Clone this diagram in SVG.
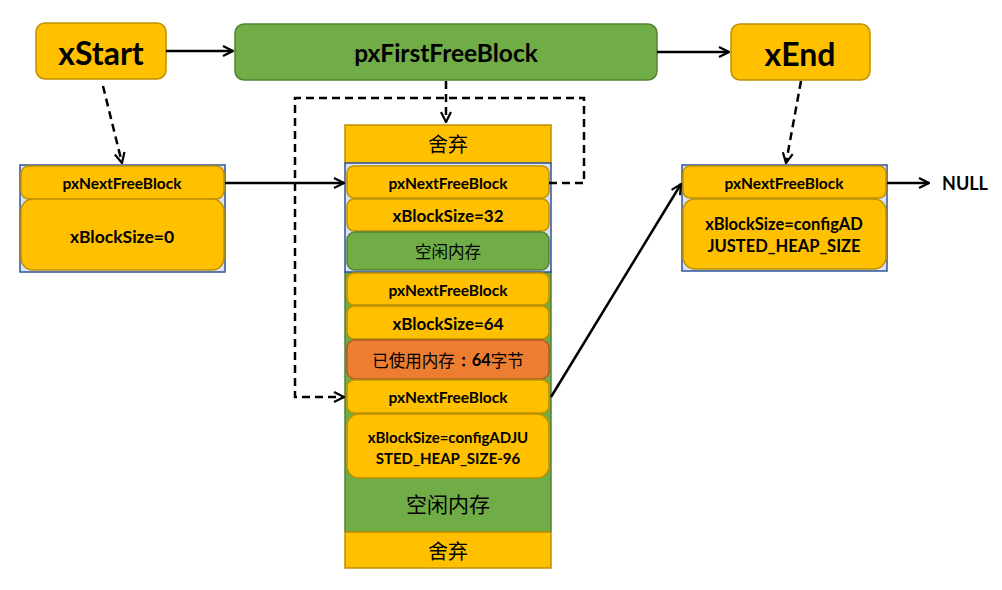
<svg xmlns="http://www.w3.org/2000/svg" width="1002" height="590" viewBox="0 0 1002 590">
<defs>
<style>
.y{fill:#FFC000;stroke:#BF9000;stroke-width:1.5}
.g{fill:#70AD47;stroke:#538135;stroke-width:1.5}
.o{fill:#ED7D31;stroke:#AE5A21;stroke-width:1.5}
.frame{fill:#DAE3F3;stroke:#2F5597;stroke-width:1.5}
.t{font-family:Lato,"Liberation Sans","Noto Sans CJK SC",sans-serif;font-weight:bold;fill:#000;text-anchor:middle;dominant-baseline:central}
.c{font-family:"Noto Sans CJK SC",sans-serif;font-weight:normal;fill:#000;text-anchor:middle;dominant-baseline:central}
.ln{fill:none;stroke:#000;stroke-width:2.5}
.dash{fill:none;stroke:#000;stroke-width:2.5;stroke-dasharray:8 5}
</style>
<marker id="ah" viewBox="0 0 12 12" refX="11" refY="6" markerWidth="12" markerHeight="12" markerUnits="userSpaceOnUse" orient="auto">
<path d="M1,1 L11,6 L1,11" fill="none" stroke="#000" stroke-width="2.2"/>
</marker>
</defs>
<rect width="1002" height="590" fill="#fff"/>

<g id="xStart">
<rect class="y" x="36" y="23" width="130" height="56" rx="9"/>
<text class="t" x="101" y="52" font-size="32">xStart</text>
</g>
<g id="pxFirstFreeBlock">
<rect class="g" x="235" y="24" width="422" height="56" rx="9"/>
<text class="t" x="446" y="52" font-size="24.5">pxFirstFreeBlock</text>
</g>
<g id="xEnd">
<rect class="y" x="731" y="24" width="139" height="56" rx="9"/>
<text class="t" x="800" y="53" font-size="32">xEnd</text>
</g>

<g id="startBlock">
<rect class="frame" x="20" y="165" width="205" height="107"/>
<rect class="y" x="21" y="166" width="203" height="33" rx="8"/>
<text class="t" x="122" y="183" font-size="15.5">pxNextFreeBlock</text>
<rect class="y" x="21" y="199" width="203" height="71" rx="12"/>
<text class="t" x="122" y="236" font-size="17.5">xBlockSize=0</text>
</g>

<g id="heap">
<rect class="g" x="345" y="272" width="206" height="260"/>
<rect class="y" x="345" y="125" width="206" height="38"/>
<text class="c" x="448" y="143" font-size="20">舍弃</text>
<rect class="frame" x="345" y="163" width="206" height="109"/>
<rect class="y" x="347" y="166" width="202" height="32" rx="7"/>
<text class="t" x="448" y="183" font-size="15.5">pxNextFreeBlock</text>
<rect class="y" x="347" y="199" width="202" height="32" rx="7"/>
<text class="t" x="448" y="215" font-size="17">xBlockSize=32</text>
<rect class="g" x="347" y="232" width="202" height="38" rx="8"/>
<text class="c" x="448" y="251" font-size="16.5">空闲内存</text>
<rect class="y" x="347" y="273" width="202" height="32" rx="7"/>
<text class="t" x="448" y="290" font-size="15.5">pxNextFreeBlock</text>
<rect class="y" x="347" y="306" width="202" height="33" rx="7"/>
<text class="t" x="448" y="323" font-size="17">xBlockSize=64</text>
<rect class="o" x="347" y="340" width="202" height="39" rx="8"/>
<text class="c" x="448" y="360" font-size="16.5">已使用内存<tspan font-family="Lato,'Liberation Sans',sans-serif" font-weight="bold">：64</tspan>字节</text>
<rect class="y" x="347" y="380" width="202" height="33" rx="7"/>
<text class="t" x="448" y="397" font-size="15.5">pxNextFreeBlock</text>
<rect class="y" x="347" y="414" width="202" height="64" rx="12"/>
<text class="t" x="448" y="437" font-size="15">xBlockSize=configADJU</text>
<text class="t" x="448" y="458" font-size="15">STED_HEAP_SIZE-96</text>
<text class="c" x="448" y="503" font-size="21">空闲内存</text>
<rect class="y" x="345" y="532" width="206" height="36"/>
<text class="c" x="448" y="550" font-size="20">舍弃</text>
</g>

<g id="endBlock">
<rect class="frame" x="682" y="165" width="205" height="106"/>
<rect class="y" x="683" y="166" width="203" height="32" rx="7"/>
<text class="t" x="784" y="183" font-size="15.5">pxNextFreeBlock</text>
<rect class="y" x="683" y="199" width="203" height="70" rx="12"/>
<text class="t" x="784" y="224" font-size="16.5">xBlockSize=configAD</text>
<text class="t" x="784" y="246" font-size="16.5">JUSTED_HEAP_SIZE</text>
</g>

<g id="null">
<text class="t" x="965" y="183" font-size="18">NULL</text>
</g>

<g id="connectors">
<line class="ln" x1="166" y1="51" x2="233" y2="51" marker-end="url(#ah)"/>
<line class="ln" x1="657" y1="52" x2="729" y2="52" marker-end="url(#ah)"/>
<line class="dash" x1="103" y1="86" x2="122" y2="163" marker-end="url(#ah)"/>
<line class="dash" x1="446" y1="81" x2="446" y2="122" marker-end="url(#ah)"/>
<line class="dash" x1="801" y1="81" x2="786" y2="163" marker-end="url(#ah)"/>
<line class="ln" x1="225" y1="183" x2="344" y2="183" marker-end="url(#ah)"/>
<polyline class="dash" points="549,183 584,183 584,98 295,98 295,397 344,397" marker-end="url(#ah)"/>
<line class="ln" x1="551" y1="397" x2="681" y2="184" marker-end="url(#ah)"/>
<line class="ln" x1="887" y1="183" x2="929" y2="183" marker-end="url(#ah)"/>
</g>
</svg>
